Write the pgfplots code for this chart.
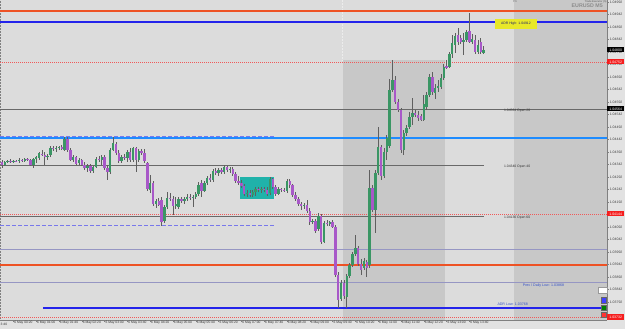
\documentclass[border=0pt]{standalone}
\usepackage{fontspec}
\setmainfont{Liberation Sans}
\usepackage{pgfplots}
\usepackage{pgfplotstable}
\pgfplotsset{compat=1.18}
\definecolor{pagebg}{RGB}{226,226,226}
\definecolor{plotbg}{RGB}{220,220,220}
\definecolor{shadegray}{RGB}{200,200,200}
\definecolor{bull}{RGB}{58,150,100}
\definecolor{bear}{RGB}{168,88,200}
\definecolor{wick}{RGB}{95,95,95}
\definecolor{orred}{RGB}{238,82,36}
\definecolor{adrblue}{RGB}{36,36,235}
\definecolor{dblue}{RGB}{30,140,255}
\definecolor{dashblue}{RGB}{120,120,235}
\definecolor{lav}{RGB}{150,150,195}
\definecolor{dotred}{RGB}{240,90,90}
\definecolor{opengray}{RGB}{105,105,105}
\definecolor{teal2}{RGB}{32,178,170}
\definecolor{hiyellow}{RGB}{232,232,40}
\definecolor{lblblue}{RGB}{50,80,200}
\definecolor{boxred}{RGB}{245,30,30}

\pgfplotstableread{
i o h l c
0 1.04352 1.04360 1.04328 1.04340
1 1.04340 1.04356 1.04336 1.04352
2 1.04352 1.04360 1.04348 1.04356
3 1.04356 1.04364 1.04348 1.04352
4 1.04352 1.04360 1.04348 1.04356
5 1.04356 1.04360 1.04352 1.04354
6 1.04356 1.04368 1.04348 1.04360
7 1.04360 1.04364 1.04352 1.04356
8 1.04356 1.04368 1.04352 1.04364
9 1.04364 1.04368 1.04356 1.04360
10 1.04360 1.04364 1.04336 1.04340
11 1.04340 1.04368 1.04328 1.04364
12 1.04364 1.04376 1.04348 1.04372
13 1.04368 1.04392 1.04360 1.04388
14 1.04384 1.04400 1.04376 1.04380
15 1.04380 1.04392 1.04340 1.04372
16 1.04372 1.04384 1.04360 1.04376
17 1.04380 1.04416 1.04372 1.04408
18 1.04408 1.04416 1.04396 1.04404
19 1.04404 1.04416 1.04392 1.04408
20 1.04408 1.04416 1.04400 1.04412
21 1.04412 1.04420 1.04400 1.04404
22 1.04400 1.04452 1.04396 1.04444
23 1.04444 1.04452 1.04392 1.04400
24 1.04400 1.04408 1.04356 1.04360
25 1.04360 1.04380 1.04352 1.04372
26 1.04372 1.04376 1.04340 1.04344
27 1.04348 1.04368 1.04340 1.04360
28 1.04360 1.04364 1.04336 1.04340
29 1.04340 1.04352 1.04320 1.04328
30 1.04328 1.04344 1.04312 1.04336
31 1.04336 1.04344 1.04308 1.04316
32 1.04316 1.04336 1.04308 1.04332
33 1.04332 1.04372 1.04328 1.04364
34 1.04364 1.04376 1.04352 1.04360
35 1.04360 1.04380 1.04340 1.04372
36 1.04372 1.04380 1.04320 1.04328
37 1.04328 1.04340 1.04280 1.04312
38 1.04312 1.04408 1.04304 1.04400
39 1.04400 1.04452 1.04396 1.04428
40 1.04424 1.04432 1.04380 1.04388
41 1.04388 1.04400 1.04348 1.04356
42 1.04356 1.04380 1.04348 1.04372
43 1.04372 1.04384 1.04360 1.04368
44 1.04368 1.04400 1.04352 1.04392
45 1.04392 1.04408 1.04352 1.04360
46 1.04360 1.04412 1.04352 1.04408
47 1.04408 1.04412 1.04312 1.04360
48 1.04360 1.04404 1.04352 1.04396
49 1.04396 1.04404 1.04380 1.04388
50 1.04388 1.04404 1.04348 1.04356
51 1.04348 1.04352 1.04236 1.04244
52 1.04240 1.04300 1.04228 1.04268
53 1.04268 1.04276 1.04176 1.04184
54 1.04184 1.04204 1.04168 1.04196
55 1.04196 1.04208 1.04176 1.04180
56 1.04200 1.04212 1.04096 1.04112
57 1.04116 1.04180 1.04108 1.04172
58 1.04172 1.04232 1.04164 1.04208
59 1.04208 1.04228 1.04196 1.04204
60 1.04204 1.04216 1.04140 1.04176
61 1.04176 1.04212 1.04164 1.04184
62 1.04172 1.04212 1.04164 1.04204
63 1.04204 1.04212 1.04188 1.04196
64 1.04196 1.04212 1.04184 1.04204
65 1.04204 1.04224 1.04196 1.04212
66 1.04212 1.04224 1.04200 1.04208
67 1.04208 1.04220 1.04172 1.04212
68 1.04212 1.04232 1.04204 1.04224
69 1.04224 1.04272 1.04216 1.04260
70 1.04268 1.04280 1.04212 1.04236
71 1.04236 1.04276 1.04232 1.04268
72 1.04268 1.04296 1.04260 1.04288
73 1.04288 1.04304 1.04272 1.04280
74 1.04280 1.04324 1.04272 1.04316
75 1.04316 1.04328 1.04300 1.04308
76 1.04308 1.04328 1.04296 1.04320
77 1.04320 1.04328 1.04304 1.04312
78 1.04312 1.04340 1.04304 1.04332
79 1.04332 1.04336 1.04312 1.04320
80 1.04320 1.04332 1.04308 1.04324
81 1.04324 1.04332 1.04296 1.04304
82 1.04304 1.04312 1.04268 1.04276
83 1.04276 1.04296 1.04260 1.04268
84 1.04268 1.04280 1.04248 1.04256
85 1.04256 1.04264 1.04216 1.04224
86 1.04224 1.04240 1.04212 1.04228
87 1.04228 1.04240 1.04212 1.04220
88 1.04220 1.04240 1.04212 1.04232
89 1.04232 1.04252 1.04216 1.04244
90 1.04244 1.04252 1.04232 1.04240
91 1.04240 1.04252 1.04228 1.04244
92 1.04244 1.04252 1.04232 1.04240
93 1.04240 1.04252 1.04216 1.04224
94 1.04228 1.04292 1.04220 1.04284
95 1.04284 1.04288 1.04244 1.04252
96 1.04252 1.04260 1.04216 1.04224
97 1.04224 1.04252 1.04220 1.04244
98 1.04244 1.04248 1.04232 1.04240
99 1.04240 1.04248 1.04232 1.04236
100 1.04236 1.04284 1.04228 1.04276
101 1.04276 1.04284 1.04248 1.04260
102 1.04260 1.04264 1.04212 1.04220
103 1.04220 1.04232 1.04196 1.04204
104 1.04204 1.04212 1.04176 1.04184
105 1.04184 1.04192 1.04160 1.04176
106 1.04176 1.04188 1.04164 1.04180
107 1.04180 1.04200 1.04148 1.04156
108 1.04156 1.04168 1.04100 1.04112
109 1.04112 1.04124 1.04104 1.04116
110 1.04116 1.04124 1.04068 1.04076
111 1.04084 1.04148 1.04076 1.04136
112 1.04136 1.04144 1.04024 1.04032
113 1.04032 1.04116 1.04028 1.04108
114 1.04108 1.04120 1.04096 1.04104
115 1.04104 1.04116 1.04096 1.04112
116 1.04112 1.04120 1.04088 1.04092
117 1.04092 1.04100 1.03892 1.03900
118 1.03900 1.03912 1.03768 1.03800
119 1.03804 1.03880 1.03796 1.03868
120 1.03868 1.03880 1.03804 1.03816
121 1.03812 1.03904 1.03768 1.03896
122 1.03896 1.03948 1.03888 1.03940
123 1.03940 1.03992 1.03932 1.03984
124 1.03984 1.04060 1.03976 1.04008
125 1.04008 1.04016 1.03936 1.03944
126 1.03944 1.03964 1.03900 1.03920
127 1.03928 1.03968 1.03920 1.03956
128 1.03952 1.03960 1.03892 1.03928
129 1.03940 1.04320 1.03928 1.04248
130 1.04248 1.04260 1.04152 1.04160
131 1.04160 1.04320 1.04068 1.04308
132 1.04308 1.04492 1.04300 1.04412
133 1.04412 1.04420 1.04280 1.04296
134 1.04296 1.04408 1.04288 1.04392
135 1.04392 1.04460 1.04360 1.04448
136 1.04416 1.04684 1.04408 1.04640
137 1.04640 1.04760 1.04632 1.04680
138 1.04680 1.04696 1.04584 1.04592
139 1.04592 1.04604 1.04552 1.04560
140 1.04560 1.04568 1.04388 1.04400
141 1.04400 1.04480 1.04380 1.04468
142 1.04468 1.04500 1.04456 1.04488
143 1.04492 1.04552 1.04484 1.04532
144 1.04532 1.04608 1.04500 1.04548
145 1.04548 1.04560 1.04532 1.04540
146 1.04540 1.04556 1.04516 1.04528
147 1.04536 1.04544 1.04516 1.04520
148 1.04520 1.04620 1.04516 1.04584
149 1.04572 1.04632 1.04560 1.04620
150 1.04620 1.04704 1.04612 1.04692
151 1.04692 1.04712 1.04620 1.04632
152 1.04628 1.04664 1.04604 1.04648
153 1.04648 1.04680 1.04632 1.04656
154 1.04652 1.04704 1.04644 1.04688
155 1.04688 1.04744 1.04680 1.04732
156 1.04736 1.04760 1.04724 1.04728
157 1.04732 1.04792 1.04728 1.04784
158 1.04784 1.04860 1.04768 1.04828
159 1.04820 1.04868 1.04788 1.04856
160 1.04860 1.04888 1.04820 1.04832
161 1.04848 1.04860 1.04824 1.04832
162 1.04832 1.04868 1.04780 1.04840
163 1.04840 1.04880 1.04832 1.04872
164 1.04876 1.04948 1.04828 1.04832
165 1.04832 1.04864 1.04824 1.04844
166 1.04840 1.04860 1.04784 1.04792
167 1.04792 1.04840 1.04784 1.04820
168 1.04832 1.04848 1.04784 1.04792
169 1.04788 1.04816 1.04784 1.04800
}\candles

\begin{document}
\begin{tikzpicture}
\useasboundingbox (0,-9bp) rectangle (625bp,320bp);
\fill[pagebg] (0,-9bp) rectangle (625bp,320bp);
\begin{axis}[
  scale only axis, width=607bp, height=320bp,
  xmin=-0.7, xmax=212.3, ymin=1.0372, ymax=1.05,
  clip=false,
  axis background/.style={fill=plotbg},
  axis x line*=bottom, axis y line*=right,
  axis line style={draw=gray, line width=0.6bp, -},
  tick align=outside, major tick length=2bp,
  tick style={draw=gray, line width=0.4bp},
  scaled y ticks=false,
  xtick={4,12,20,28,36,44,52,60,68,76,84,92,100,108,116,124,132,140,148,156,164},
  xticklabels={6 May 00:20,6 May 01:00,6 May 01:40,6 May 02:20,6 May 03:00,6 May 03:40,6 May 04:20,6 May 05:00,6 May 05:40,6 May 06:20,6 May 07:00,6 May 07:40,6 May 08:20,6 May 09:00,6 May 09:40,6 May 10:20,6 May 11:00,6 May 11:40,6 May 12:20,6 May 13:00,6 May 13:40},
  xticklabel style={anchor=north west, font=\fontsize{3.3}{4}\selectfont, text=black!80, inner sep=0pt, xshift=0.8bp, yshift=0.6bp},
  ytick={1.04992,1.04942,1.04892,1.04842,1.04792,1.04742,1.04692,1.04642,1.04592,1.04542,1.04492,1.04442,1.04392,1.04342,1.04292,1.04242,1.04192,1.04142,1.04092,1.04042,1.03992,1.03942,1.03892,1.03842,1.03792},
  yticklabels={1.04992,1.04942,1.04892,1.04842,1.04792,1.04742,1.04692,1.04642,1.04592,1.04542,1.04492,1.04442,1.04392,1.04342,1.04292,1.04242,1.04192,1.04142,1.04092,1.04042,1.03992,1.03942,1.03892,1.03842,1.03792},
  yticklabel style={anchor=west, font=\fontsize{3.5}{4}\selectfont, text=black!75, inner sep=0pt, xshift=0.6bp},
]
% shaded regions
\fill[shadegray] (axis cs:119.5,1.0476) rectangle (axis cs:155.5,1.0372);
\fill[shadegray] (axis cs:179.5,1.05) rectangle (axis cs:212.3,1.0372);
\fill[teal2] (axis cs:83.5,1.04292) rectangle (axis cs:95.5,1.04204);
\draw[white!85!gray, densely dotted, line width=0.5bp] (axis cs:119.5,1.05) -- (axis cs:119.5,1.0476);
\draw[gray, densely dotted, line width=0.5bp] (axis cs:-0.5,1.0372) -- (axis cs:-0.5,1.05);

% horizontal levels
\addplot[orred, line width=1.2bp] coordinates {(-0.7,1.04956) (212.3,1.04956)};
\addplot[adrblue, line width=1.8bp] coordinates {(-0.7,1.04912) (212.3,1.04912)};
\addplot[dotred, line width=0.6bp, dash pattern=on 1bp off 1bp] coordinates {(-0.7,1.04752) (212.3,1.04752)};
\addplot[opengray, line width=0.7bp] coordinates {(-0.7,1.04564) (212.3,1.04564)};
\addplot[dashblue, line width=0.7bp, dash pattern=on 4bp off 2bp] coordinates {(-0.7,1.04456) (95.5,1.04456)};
\addplot[dblue, line width=1.2bp] coordinates {(-0.7,1.04448) (212.3,1.04448)};
\addplot[opengray, line width=0.7bp] coordinates {(-0.7,1.04340) (169,1.04340)};
\addplot[dotred, line width=0.6bp, dash pattern=on 1bp off 1bp] coordinates {(-0.7,1.04144) (212.3,1.04144)};
\addplot[opengray, line width=0.7bp] coordinates {(-0.7,1.04136) (169,1.04136)};
\addplot[dashblue, line width=0.7bp, dash pattern=on 4bp off 2bp] coordinates {(-0.7,1.04100) (95.5,1.04100)};
\addplot[lav, line width=1bp] coordinates {(-0.7,1.04000) (212.3,1.04000)};
\addplot[orred, line width=1.2bp] coordinates {(-0.7,1.03940) (212.3,1.03940)};
\addplot[lav, line width=1bp] coordinates {(-0.7,1.03868) (212.3,1.03868)};
\addplot[adrblue, line width=1.8bp] coordinates {(14.4,1.03768) (212.3,1.03768)};
\addplot[dotred, line width=0.6bp, dash pattern=on 1bp off 1bp] coordinates {(-0.7,1.03732) (212.3,1.03732)};

% candles: wicks
\addplot[draw=none, forget plot,
  error bars/.cd, y dir=plus, y explicit, error mark=none,
  error bar style={draw=wick, line width=0.7bp, solid}]
  table[x=i, y=l, y error expr=\thisrow{h}-\thisrow{l}] {\candles};
% bull bodies
\addplot[draw=none, forget plot,
  restrict expr to domain={\thisrow{c}-\thisrow{o}}{0:1},
  error bars/.cd, y dir=plus, y explicit, error mark=none,
  error bar style={draw=bull, line width=2.4bp, solid}]
  table[x=i, y=o, y error expr=\thisrow{c}-\thisrow{o}] {\candles};
% bear bodies
\addplot[draw=none, forget plot,
  restrict expr to domain={\thisrow{o}-\thisrow{c}}{0:1},
  error bars/.cd, y dir=plus, y explicit, error mark=none,
  error bar style={draw=bear, line width=2.4bp, solid}]
  table[x=i, y=c, y error expr=\thisrow{o}-\thisrow{c}] {\candles};

% labels in the chart
\fill[hiyellow] (axis cs:173,1.04924) rectangle (axis cs:187.7,1.04884);
\node[font=\fontsize{3.4}{4}\selectfont, text={rgb,255:red,30;green,30;blue,110}, inner sep=0pt] at (axis cs:180.35,1.04904) {ADR High: 1.04912};
\node[anchor=north west, inner sep=0.3bp, font=\fontsize{3.4}{4}\selectfont, text=black!80] at (axis cs:176,1.04564) {1.04564 Open 20};
\node[anchor=north west, inner sep=0.3bp, font=\fontsize{3.4}{4}\selectfont, text=black!80] at (axis cs:176,1.04340) {1.04340 Open 40};
\node[anchor=north west, inner sep=0.3bp, font=\fontsize{3.4}{4}\selectfont, text=black!80] at (axis cs:176,1.04136) {1.04136 Open 60};
\node[anchor=north west, inner sep=0.6bp, font=\fontsize{3.6}{4}\selectfont, text=lblblue] at (axis cs:182.5,1.03868) {Prev / Daily Low: 1.03868};
\node[anchor=south west, inner sep=0.3bp, yshift=1.5bp, font=\fontsize{3.6}{4}\selectfont, text=lblblue] at (axis cs:173.7,1.03768) {ADR Low: 1.03768};
\node[anchor=north east, inner sep=0pt, font=\bfseries\fontsize{5.3}{6}\selectfont, text=black!45] at (axis cs:210.9,1.04984) {EURUSD M5};
\node[anchor=north east, inner sep=0.2bp, font=\fontsize{2.6}{3}\selectfont, text=black!65] at (axis cs:212.3,1.05) {Trade Executor (S)};
\node[anchor=north west, inner sep=0.2bp, font=\fontsize{3}{3.5}\selectfont, text=black!60] at (axis cs:179.3,1.05) {Fri};
\node[anchor=north west, inner sep=0pt, xshift=0.5bp, yshift=-2.6bp, font=\fontsize{3.3}{4}\selectfont, text=black!80] at (axis cs:-0.7,1.0372) {3:40};

% small buttons
\filldraw[fill=white, draw=black!40, line width=0.3bp] (axis cs:209.1,1.03852) rectangle (axis cs:212.3,1.03828);
\filldraw[fill=blue!75, draw=black!60, line width=0.3bp] (axis cs:210.2,1.03812) rectangle (axis cs:211.9,1.03788);
\filldraw[fill=green!50!black, draw=black!60, line width=0.3bp] (axis cs:210.2,1.03780) rectangle (axis cs:211.9,1.03760);
\filldraw[fill=red!80, draw=black!60, line width=0.3bp] (axis cs:210.2,1.03752) rectangle (axis cs:211.9,1.03732);

% price boxes on the right scale
\node[fill=black, text=white, anchor=west, inner sep=0.4bp, minimum width=17bp, minimum height=5bp, font=\fontsize{3.5}{4}\selectfont] at (axis cs:212.3,1.04800) {1.04800};
\node[fill=black, text=white, anchor=west, inner sep=0.4bp, minimum width=17bp, minimum height=5bp, font=\fontsize{3.5}{4}\selectfont] at (axis cs:212.3,1.04564) {1.04564};
\node[fill=boxred, text=white, anchor=west, inner sep=0.4bp, minimum width=17bp, minimum height=5bp, font=\fontsize{3.5}{4}\selectfont] at (axis cs:212.3,1.04752) {1.04752};
\node[fill=boxred, text=white, anchor=west, inner sep=0.4bp, minimum width=17bp, minimum height=5bp, font=\fontsize{3.5}{4}\selectfont] at (axis cs:212.3,1.04144) {1.04144};
\node[fill=boxred, text=white, anchor=west, inner sep=0.4bp, minimum width=17bp, minimum height=5bp, font=\fontsize{3.5}{4}\selectfont] at (axis cs:212.3,1.03732) {1.03732};
\end{axis}
\end{tikzpicture}
\end{document}
